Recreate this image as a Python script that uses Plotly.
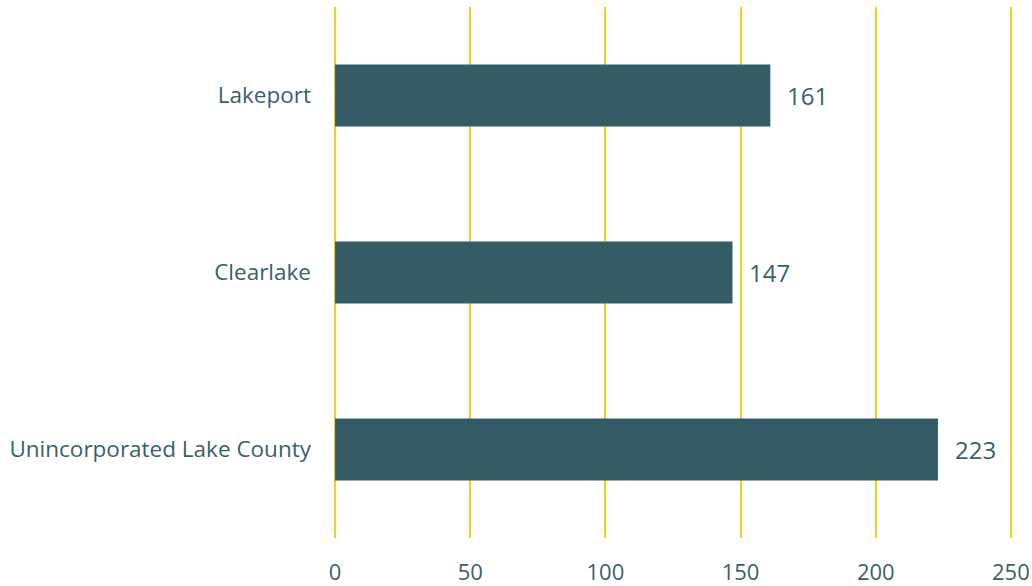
import plotly.graph_objects as go

categories = ["Lakeport", "Clearlake", "Unincorporated Lake County"]
values = [161, 147, 223]
tick_vals = [0, 50, 100, 150, 200, 250]

bar_color = "#345c66"
text_color = "#3b5f69"
grid_color = "#f2cf1a"

fig = go.Figure()
fig.add_trace(go.Bar(
    y=categories, x=values, orientation="h",
    marker=dict(color=bar_color, line=dict(width=0)),
    width=0.35, hoverinfo="skip",
))
for c, v in zip(categories, values):
    fig.add_annotation(x=v, y=c, text=str(v), showarrow=False, xanchor="left",
                       xshift=15, font=dict(family="Open Sans", size=24, color=text_color))

fig.update_layout(
    width=1032, height=586,
    margin=dict(l=334, r=20, t=7, b=48),
    paper_bgcolor="white", plot_bgcolor="white",
    showlegend=False,
    font=dict(family="Open Sans", color=text_color, size=22),
)
fig.update_xaxes(range=[-0.4, 250.4], tickvals=tick_vals, showgrid=True, gridcolor=grid_color,
                 gridwidth=2, zeroline=False, showline=False, ticks="", ticklen=0,
                 ticklabelstandoff=19, automargin=False,
                 tickfont=dict(size=22, color=text_color))
fig.update_yaxes(autorange="reversed", showgrid=False, zeroline=False, showline=False,
                 ticks="", ticklabelstandoff=22, automargin=False,
                 tickfont=dict(size=22.5, color=text_color))
fig.write_html("out.html")
